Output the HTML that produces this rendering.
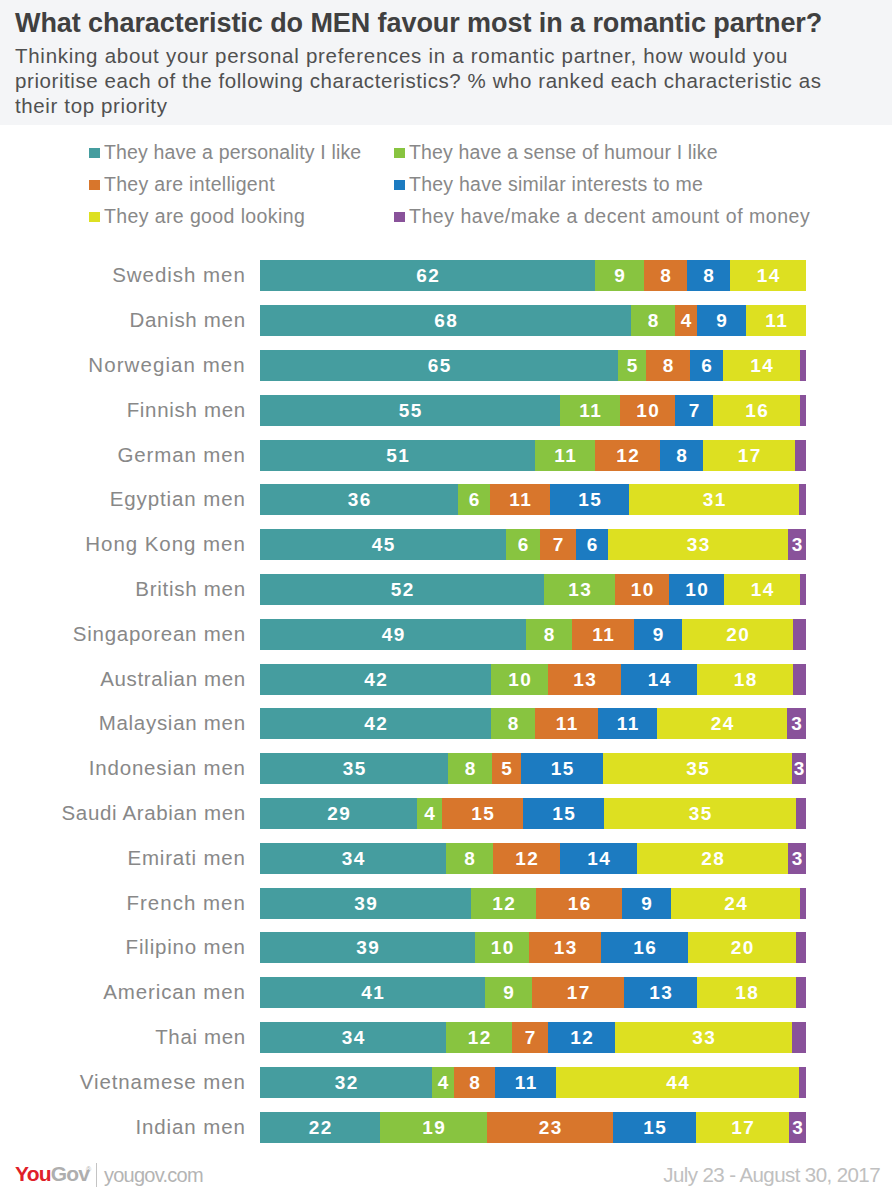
<!DOCTYPE html>
<html><head><meta charset="utf-8">
<style>
html,body{margin:0;padding:0;}
body{width:892px;height:1200px;position:relative;overflow:hidden;background:#fff;font-family:"Liberation Sans",sans-serif;}
#hdr{position:absolute;left:0;top:0;width:892px;height:125px;background:#f4f5f7;}
.title{position:absolute;font-size:27px;line-height:30px;font-weight:bold;color:#404040;white-space:nowrap;}
.sub{position:absolute;font-size:20.5px;line-height:24px;color:#505050;white-space:nowrap;}
.leg{position:absolute;font-size:19.5px;line-height:24px;color:#888;white-space:nowrap;}
.sq{position:absolute;width:11px;height:10px;}
.lab{position:absolute;right:646.2px;height:31px;line-height:31px;font-size:20.5px;color:#888;white-space:nowrap;text-align:right;}
.seg{position:absolute;box-sizing:border-box;padding-left:1.6px;letter-spacing:1.6px;height:31px;line-height:32px;text-align:center;color:#fff;font-weight:bold;font-size:19px;white-space:nowrap;}
.c0{background:#459d9f;}
.c1{background:#88c440;}
.c2{background:#d8762c;}
.c3{background:#1c7bc1;}
.c4{background:#dde021;}
.c5{background:#89529a;}
.foot{position:absolute;white-space:nowrap;}
</style></head><body>
<div id="hdr"></div>
<div class="title" style="left:15px;top:8px;letter-spacing:-0.073px;">What characteristic do MEN favour most in a romantic partner?</div>
<div class="sub" style="left:15px;top:43.5px;letter-spacing:0.718px;">Thinking about your personal preferences in a romantic partner, how would you</div>
<div class="sub" style="left:15px;top:68.7px;letter-spacing:0.574px;">prioritise each of the following characteristics? % who ranked each characteristic as</div>
<div class="sub" style="left:15px;top:93.9px;letter-spacing:0.624px;">their top priority</div>

<div class="sq c0" style="left:89px;top:148px"></div>
<div class="leg" style="left:104px;top:140px;letter-spacing:0.159px;">They have a personality I like</div>
<div class="sq c2" style="left:89px;top:180px"></div>
<div class="leg" style="left:104px;top:171.8px;letter-spacing:0.305px;">They are intelligent</div>
<div class="sq c4" style="left:89px;top:212px"></div>
<div class="leg" style="left:104px;top:203.8px;letter-spacing:0.390px;">They are good looking</div>
<div class="sq c1" style="left:394px;top:148px"></div>
<div class="leg" style="left:409px;top:140px;letter-spacing:0.152px;">They have a sense of humour I like</div>
<div class="sq c3" style="left:394px;top:180px"></div>
<div class="leg" style="left:409px;top:171.8px;letter-spacing:0.244px;">They have similar interests to me</div>
<div class="sq c5" style="left:394px;top:212px"></div>
<div class="leg" style="left:409px;top:203.8px;letter-spacing:0.532px;">They have/make a decent amount of money</div>

<div class="lab" style="top:258.5px;letter-spacing:0.960px">Swedish men</div>
<div class="seg c0" style="left:260px;top:260px;width:335px">62</div>
<div class="seg c1" style="left:595px;top:260px;width:49px">9</div>
<div class="seg c2" style="left:644px;top:260px;width:43px">8</div>
<div class="seg c3" style="left:687px;top:260px;width:43px">8</div>
<div class="seg c4" style="left:730px;top:260px;width:76px">14</div>
<div class="lab" style="top:303.5px;letter-spacing:0.700px">Danish men</div>
<div class="seg c0" style="left:260px;top:305px;width:371px">68</div>
<div class="seg c1" style="left:631px;top:305px;width:44px">8</div>
<div class="seg c2" style="left:675px;top:305px;width:22px">4</div>
<div class="seg c3" style="left:697px;top:305px;width:49px">9</div>
<div class="seg c4" style="left:746px;top:305px;width:60px">11</div>
<div class="lab" style="top:348.5px;letter-spacing:1.067px">Norwegian men</div>
<div class="seg c0" style="left:260px;top:350px;width:358px">65</div>
<div class="seg c1" style="left:618px;top:350px;width:28px">5</div>
<div class="seg c2" style="left:646px;top:350px;width:44px">8</div>
<div class="seg c3" style="left:690px;top:350px;width:33px">6</div>
<div class="seg c4" style="left:723px;top:350px;width:77px">14</div>
<div class="seg c5" style="left:800px;top:350px;width:6px"></div>
<div class="lab" style="top:393.5px;letter-spacing:0.680px">Finnish men</div>
<div class="seg c0" style="left:260px;top:395px;width:300px">55</div>
<div class="seg c1" style="left:560px;top:395px;width:60px">11</div>
<div class="seg c2" style="left:620px;top:395px;width:55px">10</div>
<div class="seg c3" style="left:675px;top:395px;width:38px">7</div>
<div class="seg c4" style="left:713px;top:395px;width:87px">16</div>
<div class="seg c5" style="left:800px;top:395px;width:6px"></div>
<div class="lab" style="top:438.5px;letter-spacing:0.878px">German men</div>
<div class="seg c0" style="left:260px;top:440px;width:275px">51</div>
<div class="seg c1" style="left:535px;top:440px;width:60px">11</div>
<div class="seg c2" style="left:595px;top:440px;width:65px">12</div>
<div class="seg c3" style="left:660px;top:440px;width:43px">8</div>
<div class="seg c4" style="left:703px;top:440px;width:92px">17</div>
<div class="seg c5" style="left:795px;top:440px;width:11px"></div>
<div class="lab" style="top:482.5px;letter-spacing:0.900px">Egyptian men</div>
<div class="seg c0" style="left:260px;top:484px;width:198px">36</div>
<div class="seg c1" style="left:458px;top:484px;width:32px">6</div>
<div class="seg c2" style="left:490px;top:484px;width:60px">11</div>
<div class="seg c3" style="left:550px;top:484px;width:79px">15</div>
<div class="seg c4" style="left:629px;top:484px;width:170px">31</div>
<div class="seg c5" style="left:799px;top:484px;width:7px"></div>
<div class="lab" style="top:527.5px;letter-spacing:0.950px">Hong Kong men</div>
<div class="seg c0" style="left:260px;top:529px;width:246px">45</div>
<div class="seg c1" style="left:506px;top:529px;width:34px">6</div>
<div class="seg c2" style="left:540px;top:529px;width:36px">7</div>
<div class="seg c3" style="left:576px;top:529px;width:32px">6</div>
<div class="seg c4" style="left:608px;top:529px;width:180px">33</div>
<div class="seg c5" style="left:788px;top:529px;width:18px">3</div>
<div class="lab" style="top:572.5px;letter-spacing:0.720px">British men</div>
<div class="seg c0" style="left:260px;top:574px;width:284px">52</div>
<div class="seg c1" style="left:544px;top:574px;width:71px">13</div>
<div class="seg c2" style="left:615px;top:574px;width:54px">10</div>
<div class="seg c3" style="left:669px;top:574px;width:55px">10</div>
<div class="seg c4" style="left:724px;top:574px;width:76px">14</div>
<div class="seg c5" style="left:800px;top:574px;width:6px"></div>
<div class="lab" style="top:617.5px;letter-spacing:0.743px">Singaporean men</div>
<div class="seg c0" style="left:260px;top:619px;width:266px">49</div>
<div class="seg c1" style="left:526px;top:619px;width:46px">8</div>
<div class="seg c2" style="left:572px;top:619px;width:62px">11</div>
<div class="seg c3" style="left:634px;top:619px;width:48px">9</div>
<div class="seg c4" style="left:682px;top:619px;width:111px">20</div>
<div class="seg c5" style="left:793px;top:619px;width:13px"></div>
<div class="lab" style="top:662.5px;letter-spacing:0.638px">Australian men</div>
<div class="seg c0" style="left:260px;top:664px;width:231px">42</div>
<div class="seg c1" style="left:491px;top:664px;width:57px">10</div>
<div class="seg c2" style="left:548px;top:664px;width:73px">13</div>
<div class="seg c3" style="left:621px;top:664px;width:76px">14</div>
<div class="seg c4" style="left:697px;top:664px;width:96px">18</div>
<div class="seg c5" style="left:793px;top:664px;width:13px"></div>
<div class="lab" style="top:706.5px;letter-spacing:0.717px">Malaysian men</div>
<div class="seg c0" style="left:260px;top:708px;width:231px">42</div>
<div class="seg c1" style="left:491px;top:708px;width:44px">8</div>
<div class="seg c2" style="left:535px;top:708px;width:63px">11</div>
<div class="seg c3" style="left:598px;top:708px;width:59px">11</div>
<div class="seg c4" style="left:657px;top:708px;width:130px">24</div>
<div class="seg c5" style="left:787px;top:708px;width:19px">3</div>
<div class="lab" style="top:751.5px;letter-spacing:0.792px">Indonesian men</div>
<div class="seg c0" style="left:260px;top:753px;width:188px">35</div>
<div class="seg c1" style="left:448px;top:753px;width:44px">8</div>
<div class="seg c2" style="left:492px;top:753px;width:29px">5</div>
<div class="seg c3" style="left:521px;top:753px;width:82px">15</div>
<div class="seg c4" style="left:603px;top:753px;width:189px">35</div>
<div class="seg c5" style="left:792px;top:753px;width:14px">3</div>
<div class="lab" style="top:796.5px;letter-spacing:0.650px">Saudi Arabian men</div>
<div class="seg c0" style="left:260px;top:798px;width:157px">29</div>
<div class="seg c1" style="left:417px;top:798px;width:25px">4</div>
<div class="seg c2" style="left:442px;top:798px;width:81px">15</div>
<div class="seg c3" style="left:523px;top:798px;width:81px">15</div>
<div class="seg c4" style="left:604px;top:798px;width:192px">35</div>
<div class="seg c5" style="left:796px;top:798px;width:10px"></div>
<div class="lab" style="top:841.5px;letter-spacing:0.820px">Emirati men</div>
<div class="seg c0" style="left:260px;top:843px;width:186px">34</div>
<div class="seg c1" style="left:446px;top:843px;width:47px">8</div>
<div class="seg c2" style="left:493px;top:843px;width:67px">12</div>
<div class="seg c3" style="left:560px;top:843px;width:77px">14</div>
<div class="seg c4" style="left:637px;top:843px;width:151px">28</div>
<div class="seg c5" style="left:788px;top:843px;width:18px">3</div>
<div class="lab" style="top:886.5px;letter-spacing:0.989px">French men</div>
<div class="seg c0" style="left:260px;top:888px;width:211px">39</div>
<div class="seg c1" style="left:471px;top:888px;width:65px">12</div>
<div class="seg c2" style="left:536px;top:888px;width:86px">16</div>
<div class="seg c3" style="left:622px;top:888px;width:49px">9</div>
<div class="seg c4" style="left:671px;top:888px;width:129px">24</div>
<div class="seg c5" style="left:800px;top:888px;width:6px"></div>
<div class="lab" style="top:930.5px;letter-spacing:0.809px">Filipino men</div>
<div class="seg c0" style="left:260px;top:932px;width:215px">39</div>
<div class="seg c1" style="left:475px;top:932px;width:54px">10</div>
<div class="seg c2" style="left:529px;top:932px;width:72px">13</div>
<div class="seg c3" style="left:601px;top:932px;width:87px">16</div>
<div class="seg c4" style="left:688px;top:932px;width:108px">20</div>
<div class="seg c5" style="left:796px;top:932px;width:10px"></div>
<div class="lab" style="top:975.5px;letter-spacing:0.864px">American men</div>
<div class="seg c0" style="left:260px;top:977px;width:225px">41</div>
<div class="seg c1" style="left:485px;top:977px;width:47px">9</div>
<div class="seg c2" style="left:532px;top:977px;width:92px">17</div>
<div class="seg c3" style="left:624px;top:977px;width:73px">13</div>
<div class="seg c4" style="left:697px;top:977px;width:99px">18</div>
<div class="seg c5" style="left:796px;top:977px;width:10px"></div>
<div class="lab" style="top:1020.5px;letter-spacing:0.643px">Thai men</div>
<div class="seg c0" style="left:260px;top:1022px;width:186px">34</div>
<div class="seg c1" style="left:446px;top:1022px;width:66px">12</div>
<div class="seg c2" style="left:512px;top:1022px;width:36px">7</div>
<div class="seg c3" style="left:548px;top:1022px;width:67px">12</div>
<div class="seg c4" style="left:615px;top:1022px;width:177px">33</div>
<div class="seg c5" style="left:792px;top:1022px;width:14px"></div>
<div class="lab" style="top:1065.5px;letter-spacing:0.900px">Vietnamese men</div>
<div class="seg c0" style="left:260px;top:1067px;width:172px">32</div>
<div class="seg c1" style="left:432px;top:1067px;width:22px">4</div>
<div class="seg c2" style="left:454px;top:1067px;width:41px">8</div>
<div class="seg c3" style="left:495px;top:1067px;width:61px">11</div>
<div class="seg c4" style="left:556px;top:1067px;width:243px">44</div>
<div class="seg c5" style="left:799px;top:1067px;width:7px"></div>
<div class="lab" style="top:1110.5px;letter-spacing:0.900px">Indian men</div>
<div class="seg c0" style="left:260px;top:1112px;width:120px">22</div>
<div class="seg c1" style="left:380px;top:1112px;width:107px">19</div>
<div class="seg c2" style="left:487px;top:1112px;width:126px">23</div>
<div class="seg c3" style="left:613px;top:1112px;width:83px">15</div>
<div class="seg c4" style="left:696px;top:1112px;width:93px">17</div>
<div class="seg c5" style="left:789px;top:1112px;width:17px">3</div>

<div class="foot" style="left:15px;top:1162px;font-size:21px;line-height:24px;font-weight:bold;letter-spacing:-0.8px;"><span style="color:#df2029">You</span><span style="color:#aeaeae">Gov</span><span style="color:#aeaeae;font-size:7px;position:absolute;left:71px;top:4px;line-height:7px;font-weight:normal;letter-spacing:0">&reg;</span></div>
<div class="foot" style="left:96px;top:1163px;width:1px;height:24px;background:#c4c4c4;"></div>
<div class="foot" style="left:104px;top:1163px;letter-spacing:-0.756px;font-size:20px;line-height:24px;color:#b4b4b4;">yougov.com</div>
<div class="foot" style="right:12px;top:1163px;letter-spacing:-0.583px;font-size:20.5px;line-height:24px;color:#c0c0c0;">July 23 - August 30, 2017</div>
</body></html>
